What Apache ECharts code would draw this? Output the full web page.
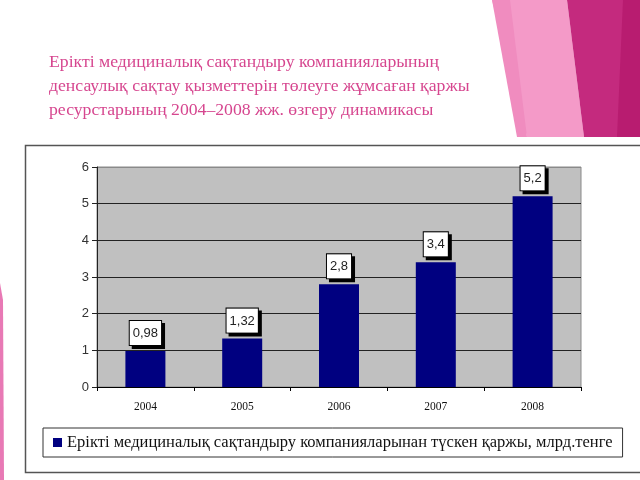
<!DOCTYPE html>
<html>
<head>
<meta charset="utf-8">
<script src="https://cdn.jsdelivr.net/npm/echarts@6/dist/echarts.min.js"></script>
<style>
  html, body { margin: 0; padding: 0; background: #fff; }
  #main { width: 640px; height: 480px; }
</style>
</head>
<body>
<div id="main"></div>
<script>
// 数据
const years = ['2004', '2005', '2006', '2007', '2008'];
const fundValues = [0.98, 1.32, 2.8, 3.4, 5.2];
const seriesName = 'Ерікті медициналық сақтандыру компанияларынан түскен қаржы, млрд.тенге';
const titleLines = [
  'Ерікті медициналық сақтандыру компанияларының',
  'денсаулық сақтау қызметтерін төлеуге жұмсаған қаржы',
  'ресурстарының 2004–2008 жж. өзгеру динамикасы'
];

const chart = echarts.init(document.getElementById('main'));

const option = {
  backgroundColor: '#ffffff',
  animation: false,
  title: {
    text: titleLines.join('\n'),
    left: 44,
    top: 45,
    textStyle: {
      color: '#d6468f',
      fontFamily: 'Liberation Serif',
      fontSize: 17.7,
      fontWeight: 'normal',
      lineHeight: 24
    }
  },
  // 装饰图形 + 外框
  graphic: [
    { type: 'polygon', shape: { points: [[492, 0], [567, 0], [584, 137], [527, 137]] }, style: { fill: '#f49ac8' }, z: -1 },
    { type: 'polygon', shape: { points: [[492, 0], [510, 0], [527, 137], [517, 137]] }, style: { fill: '#f08cbf' }, z: -1 },
    { type: 'polygon', shape: { points: [[567, 0], [640, 0], [640, 137], [584, 137]] }, style: { fill: '#c42a7e' }, z: -1 },
    { type: 'polygon', shape: { points: [[623, 0], [640, 0], [640, 137], [617, 137]] }, style: { fill: '#b81c70' }, z: -1 },
    { type: 'polygon', shape: { points: [[0, 283], [3, 300], [4, 480], [0, 480]] }, style: { fill: '#e879b5' }, z: -1 },
    { type: 'rect', shape: { x: 25.5, y: 145.5, width: 630, height: 327 }, style: { fill: 'none', stroke: '#555555', lineWidth: 1.5 }, z: -1 }
  ],
  grid: {
    left: 97,
    top: 167,
    width: 484,
    height: 220,
    show: true,
    backgroundColor: '#c0c0c0',
    borderColor: '#8a8a8a',
    borderWidth: 1
  },
  legend: {
    data: [seriesName],
    left: 43,
    top: 428,
    icon: 'rect',
    itemWidth: 9,
    itemHeight: 9,
    itemGap: 4,
    padding: [6, 10, 6, 10],
    borderColor: '#333333',
    borderWidth: 1,
    textStyle: {
      color: '#111',
      fontFamily: 'Liberation Serif',
      fontSize: 16.5
    }
  },
  xAxis: {
    type: 'category',
    data: years,
    axisLine: { lineStyle: { color: '#000', width: 1 } },
    axisTick: { show: true, length: 4, lineStyle: { color: '#000' } },
    axisLabel: {
      color: '#111',
      fontFamily: 'Liberation Serif',
      fontSize: 11.5,
      margin: 14
    }
  },
  yAxis: {
    type: 'value',
    min: 0,
    max: 6,
    interval: 1,
    axisLine: { show: true, lineStyle: { color: '#222', width: 1 } },
    axisTick: { show: true, length: 5, lineStyle: { color: '#222' } },
    axisLabel: {
      color: '#333',
      fontFamily: 'Liberation Sans',
      fontSize: 13,
      margin: 8
    },
    splitLine: {
      show: true,
      lineStyle: { color: ['#222', '#222', '#222', '#222', '#222', '#222', '#8a8a8a'], width: 1 }
    }
  },
  series: [{
    name: seriesName,
    type: 'bar',
    data: fundValues,
    barWidth: 40,
    itemStyle: { color: '#000080' },
    label: {
      show: true,
      position: 'top',
      distance: 6,
      formatter: (p) => String(p.value).replace('.', ','),
      color: '#222',
      fontFamily: 'Liberation Sans',
      fontSize: 13,
      backgroundColor: '#ffffff',
      borderColor: '#000',
      borderWidth: 1,
      padding: [6, 3, 5, 3],
      shadowColor: '#000',
      shadowBlur: 0,
      shadowOffsetX: 3,
      shadowOffsetY: 3
    }
  }]
};

chart.setOption(option);
</script>
</body>
</html>
